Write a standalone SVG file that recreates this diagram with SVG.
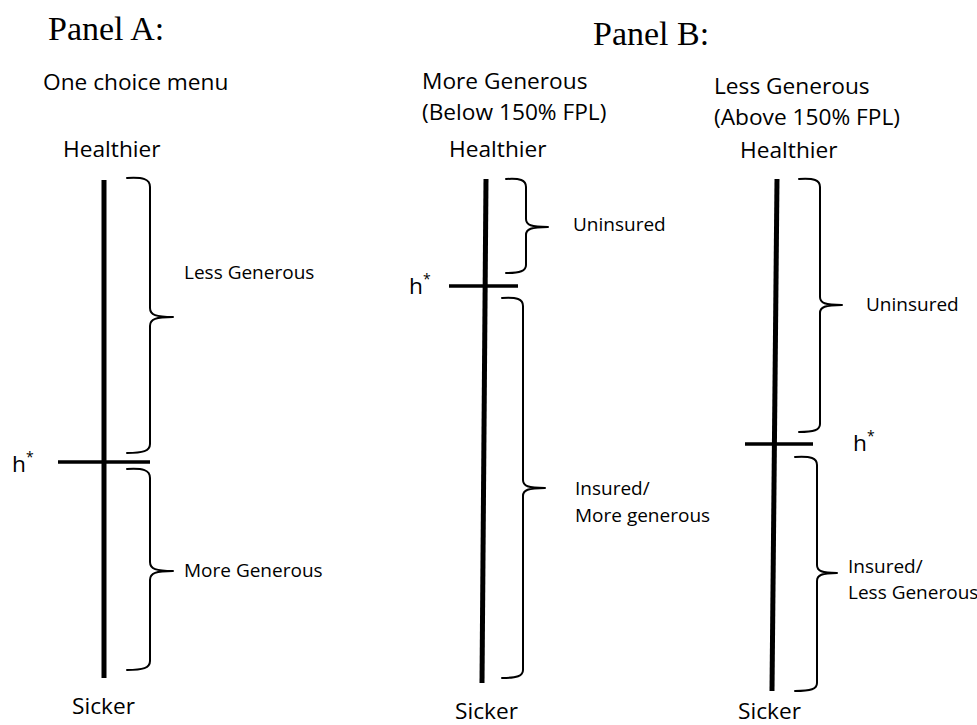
<svg xmlns="http://www.w3.org/2000/svg" width="977" height="725" viewBox="0 0 977 725">
<style>
.t{font-family:"Open Sans","Noto Sans",sans-serif;font-size:22.7px;fill:#000}
.s{font-family:"Open Sans","Noto Sans",sans-serif;font-size:19px;fill:#000}
.p{font-family:"Liberation Serif","Times New Roman",serif;font-size:34px;fill:#000}
.sup{font-size:14px}
.axis{stroke:#000;stroke-width:5;fill:none}
.hl{stroke:#000;stroke-width:3.5;fill:none}
.br{stroke:#000;stroke-width:2;fill:none;stroke-linecap:round;stroke-linejoin:round}
</style>
<rect width="977" height="725" fill="#fff"/>

<g id="panelA">
  <text class="p" x="48" y="40">Panel A:</text>
  <text class="t" x="43" y="90">One choice menu</text>
  <text class="t" x="63" y="157">Healthier</text>
  <text class="t" x="72" y="714">Sicker</text>
  <text class="t" x="12" y="472">h<tspan class="sup" dy="-10">*</tspan></text>
  <text class="s" x="184" y="279">Less Generous</text>
  <text class="s" x="184" y="577">More Generous</text>
</g>

<g id="panelB-left">
  <text class="p" x="593" y="45">Panel B:</text>
  <text class="t" x="422" y="89">More Generous</text>
  <text class="t" x="422" y="120">(Below 150% FPL)</text>
  <text class="t" x="449" y="157">Healthier</text>
  <text class="t" x="455" y="719">Sicker</text>
  <text class="t" x="409" y="294">h<tspan class="sup" dy="-10">*</tspan></text>
  <text class="s" x="573" y="231">Uninsured</text>
  <text class="s" x="575" y="495">Insured/</text>
  <text class="s" x="575" y="522">More generous</text>
</g>

<g id="panelB-right">
  <text class="t" x="714" y="94">Less Generous</text>
  <text class="t" x="714" y="125">(Above 150% FPL)</text>
  <text class="t" x="740" y="158">Healthier</text>
  <text class="t" x="738" y="719">Sicker</text>
  <text class="t" x="853" y="451">h<tspan class="sup" dy="-10">*</tspan></text>
  <text class="s" x="866" y="311">Uninsured</text>
  <text class="s" x="848" y="573">Insured/</text>
  <text class="s" x="848" y="599">Less Generous</text>
</g>

<g id="connectors">
  <!-- Panel A -->
  <line class="axis" x1="104" y1="180" x2="104" y2="678"/>
  <line class="hl" x1="58" y1="462" x2="150" y2="462"/>
  <path class="br" d="M127,178 C143,177 150,179 150,187 L150,308 C150,315 156,317 173,317 M173,317 C156,317 150,319 150,326 L150,444 C150,451 143,453 127,453"/>
  <path class="br" d="M127,469 C143,468 150,470 150,478 L150,562 C150,569 156,571 173,571 M173,571 C156,571 150,573 150,580 L150,661 C150,668 143,670 127,670"/>

  <!-- Panel B left -->
  <line class="axis" x1="486" y1="179" x2="482" y2="683"/>
  <line class="hl" x1="449" y1="286" x2="518" y2="286"/>
  <path class="br" d="M506,179 C520,178 526,180 526,187 L526,219 C526,225 531,227 548,227 M548,227 C531,227 526,229 526,235 L526,265 C526,271 520,273 506,273"/>
  <path class="br" d="M502,298 C517,297 523,299 523,306 L523,480 C523,486 528,488 545,488 M545,488 C528,488 523,490 523,496 L523,670 C523,676 517,678 502,678"/>

  <!-- Panel B right -->
  <line class="axis" x1="777" y1="179" x2="772" y2="691"/>
  <line class="hl" x1="745" y1="444" x2="813" y2="444"/>
  <path class="br" d="M799,179 C814,178 820,180 820,187 L820,297 C820,303 825,305 842,305 M842,305 C825,305 820,307 820,313 L820,424 C820,430 814,432 799,432"/>
  <path class="br" d="M795,457 C811,456 817,458 817,465 L817,565 C817,571 822,573 837,573 M837,573 C822,573 817,575 817,581 L817,683 C817,689 811,691 795,691"/>
</g>
</svg>
